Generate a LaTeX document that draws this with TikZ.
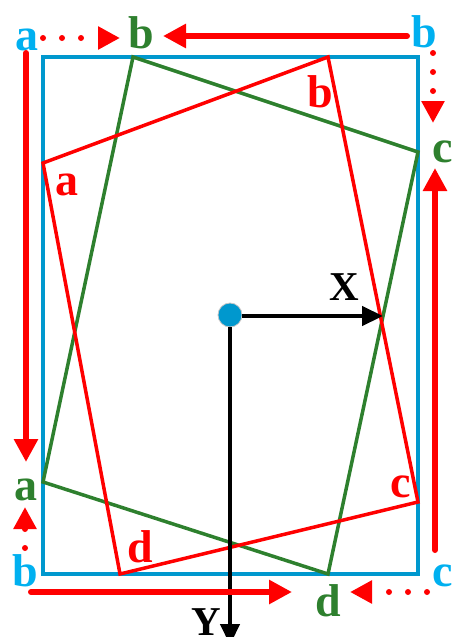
\documentclass[tikz,border=0pt]{standalone}
\usepackage{fontspec}
\setmainfont{Liberation Serif}
\usetikzlibrary{arrows.meta}
\definecolor{rectblue}{RGB}{0,152,206}
\definecolor{lblblue}{RGB}{0,176,240}
\definecolor{qgreen}{RGB}{46,128,46}
\definecolor{qred}{RGB}{255,0,0}
\tikzset{
  lbl/.style={anchor=base, inner sep=0pt, font=\fontsize{46}{46}\selectfont\bfseries},
  axlbl/.style={anchor=base, inner sep=0pt, font=\fontsize{41}{41}\selectfont\bfseries},
  solidarr/.style={draw=qred, line width=6pt, line cap=round, -{Triangle[length=23pt,width=23pt]}},
  dotarr/.style={draw=qred, line width=6pt, line cap=round, dash pattern=on 0pt off 19pt, -{Triangle[length=22pt,width=22pt]}},
  quad/.style={line width=3.5pt, line join=miter},
  axis/.style={draw=black, line width=4.5pt, -{Triangle[length=21pt,width=19pt]}},
}
\begin{document}
\begin{tikzpicture}[x=1pt,y=-1pt]
\useasboundingbox (0,0) rectangle (453,637);
% blue rectangle
\draw[rectblue, line width=4pt] (43,57) rectangle (418,574);
% green quadrilateral corners
\coordinate (ga) at (43,482);
\coordinate (gb) at (133,57);
\coordinate (gc) at (418,152);
\coordinate (gd) at (328,574);
\draw[qgreen, quad] (ga) -- (gb) -- (gc) -- (gd) -- cycle;
% red quadrilateral corners
\coordinate (ra) at (43,163);
\coordinate (rb) at (328,57);
\coordinate (rc) at (418,502);
\coordinate (rd) at (120,574);
\draw[qred, quad] (ra) -- (rb) -- (rc) -- (rd) -- cycle;
% centre and axes
\node[circle, fill=rectblue, draw=gray!45, line width=0.8pt, minimum size=24pt, inner sep=0pt] (o) at (230,315) {};
\coordinate (xend) at (383,316);
\coordinate (yend) at (230,645);
\draw[axis] (o.east |- 0,316) -- (xend);
\draw[axis] (o.south) -- (yend);
\node[axlbl] (xl) at (344,300) {X};
\node[axlbl] (yl) at (206,635) {Y};
% labels
\node[lbl, text=lblblue] (Ba) at (27,50) {a};
\node[lbl, text=lblblue] (Bb) at (424,47) {b};
\node[lbl, text=lblblue] (Bc) at (443,586) {c};
\node[lbl, text=lblblue] (Bd) at (25,586) {b};
\node[lbl, text=qgreen] (Gb) at (141,48) {b};
\node[lbl, text=qgreen] (Gc) at (443,162) {c};
\node[lbl, text=qgreen] (Gd) at (328,616) {d};
\node[lbl, text=qgreen] (Ga) at (26,500) {a};
\node[lbl, text=qred] (Ra) at (67,195) {a};
\node[lbl, text=qred] (Rb) at (320,107) {b};
\node[lbl, text=qred] (Rc) at (401,497) {c};
\node[lbl, text=qred] (Rd) at (140,562) {d};
% arrow end points
\coordinate (t1s) at (43,38);  \coordinate (t1e) at (120,38);
\coordinate (t2s) at (407,36); \coordinate (t2e) at (163,36);
\coordinate (r1s) at (433,53); \coordinate (r1e) at (433,123);
\coordinate (r2s) at (435,550);\coordinate (r2e) at (435,168);
\coordinate (b1s) at (427,592);\coordinate (b1e) at (350,592);
\coordinate (b2s) at (31,592); \coordinate (b2e) at (292,592);
\coordinate (l1s) at (25,548); \coordinate (l1e) at (25,507);
\coordinate (l2s) at (26,53);  \coordinate (l2e) at (26,462);
\draw[dotarr] (t1s) -- (t1e);
\draw[solidarr] (t2s) -- (t2e);
\draw[dotarr] (r1s) -- (r1e);
\draw[solidarr] (r2s) -- (r2e);
\draw[dotarr] (b1s) -- (b1e);
\draw[solidarr] (b2s) -- (b2e);
\draw[dotarr] (l1s) -- (l1e);
\draw[solidarr] (l2s) -- (l2e);
\end{tikzpicture}
\end{document}
